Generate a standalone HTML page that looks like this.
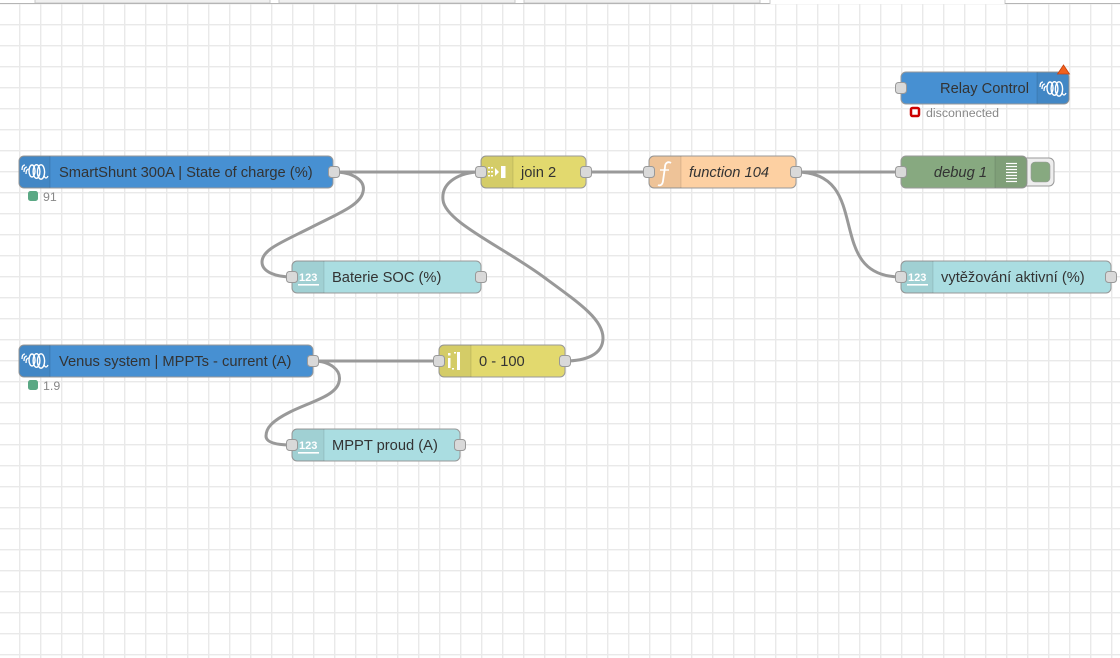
<!DOCTYPE html>
<html><head><meta charset="utf-8"><style>
html,body{margin:0;padding:0;background:#fff;}
svg{display:block;}
text{font-family:"Liberation Sans",Arial,sans-serif;}
</style></head><body>
<svg width="1120" height="658" viewBox="0 0 1120 658" xmlns="http://www.w3.org/2000/svg">
<defs>
<pattern id="g" x="19" y="3" width="21" height="21" patternUnits="userSpaceOnUse">
<rect x="0" y="0" width="1.4" height="21" fill="#e9e9e9"/>
<rect x="0" y="0" width="21" height="1.4" fill="#e9e9e9"/>
</pattern>
<g id="vic">
<path d="M-12,-1 q0,-5 3,-5 M-10,1 q0,-5 3,-5 M-8,3 q0,-5 3,-5" stroke="#fff" stroke-width="1.3" fill="none"/>
<ellipse cx="-2" cy="0" rx="3" ry="6" stroke="#fff" stroke-width="1.4" fill="none"/>
<ellipse cx="2.5" cy="0.5" rx="3.4" ry="6.8" stroke="#fff" stroke-width="1.4" fill="none"/>
<ellipse cx="7" cy="1" rx="3.6" ry="7.2" stroke="#fff" stroke-width="1.4" fill="none"/>
<path d="M10,5 q2,4 4,0" stroke="#fff" stroke-width="1.3" fill="none"/>
</g>
</defs>
<rect width="1120" height="658" fill="#fff"/>
<rect width="1120" height="658" fill="url(#g)"/>

<!-- top tabs -->
<rect x="0" y="0" width="1120" height="4" fill="#fff"/>
<rect x="35" y="-1" width="235" height="4" fill="#f0f0f0" stroke="#c8c8c8" stroke-width="1"/>
<rect x="279" y="-1" width="236" height="4" fill="#f0f0f0" stroke="#c8c8c8" stroke-width="1"/>
<rect x="524" y="-1" width="236" height="4" fill="#f0f0f0" stroke="#c8c8c8" stroke-width="1"/>
<line x1="0" y1="3.5" x2="770" y2="3.5" stroke="#b5b5b5" stroke-width="1"/>
<line x1="770" y1="0" x2="770" y2="4" stroke="#c8c8c8" stroke-width="1"/>
<line x1="1005" y1="0" x2="1005" y2="4" stroke="#c8c8c8" stroke-width="1"/>
<line x1="1005" y1="3.5" x2="1120" y2="3.5" stroke="#b5b5b5" stroke-width="1"/>

<!-- wires -->
<g stroke="#999" stroke-width="3" fill="none">
<path d="M334,172 L481,172"/>
<path d="M586,172 L649,172"/>
<path d="M796,172 L901,172"/>
<path d="M313,361 L439,361"/>
<path d="M796,172 C875,172 822,277 901,277"/>
<path d="M334,172 C352,172 366,180 363,192 C360,206 335,215 310,228 C280,243 262,250 262,262 C262,272 276,277 292,277"/>
<path d="M313,361 C330,361 342,370 339,382 C336,396 310,402 290,412 C272,421 266,428 266,436 C266,443 278,445 292,445"/>
<path d="M565,361 C585,361 603,355 603,338 C603,320 582,305 545,278 C505,248 445,222 443,200 C441,182 460,172 481,172"/>
</g>

<!-- Relay Control -->
<rect x="901" y="72" width="168" height="32" rx="5" fill="#4790d2" stroke="#999"/>
<path d="M1037,72 H1064 a5,5 0 0 1 5,5 V99 a5,5 0 0 1 -5,5 H1037 Z" fill="rgba(0,0,0,0.06)"/>
<line x1="1037" y1="72" x2="1037" y2="104" stroke="rgba(0,0,0,0.1)"/>
<use href="#vic" x="1052" y="88"/>
<text x="1029" y="93" text-anchor="end" font-size="14.7" fill="#333">Relay Control</text>
<path d="M1063.5,65 L1069.5,74 L1057.5,74 Z" fill="#f2611d" stroke="#c8400c" stroke-width="0.8"/>
<rect x="911" y="108" width="8" height="8" rx="1.5" fill="#fff" stroke="#c00" stroke-width="2.5"/>
<text x="926" y="117" font-size="12.4" fill="#888">disconnected</text>

<!-- SmartShunt -->
<rect x="19" y="156" width="314" height="32" rx="5" fill="#4790d2" stroke="#999"/>
<path d="M50,156 H24 a5,5 0 0 0 -5,5 V183 a5,5 0 0 0 5,5 H50 Z" fill="rgba(0,0,0,0.06)"/>
<line x1="50" y1="156" x2="50" y2="188" stroke="rgba(0,0,0,0.1)"/>
<use href="#vic" x="34" y="171"/>
<text x="59" y="177" font-size="14.7" fill="#333">SmartShunt 300A | State of charge (%)</text>
<rect x="28" y="191" width="10" height="10" rx="2.5" fill="#5aa884"/>
<text x="43" y="201" font-size="12.4" fill="#888">91</text>

<!-- join 2 -->
<rect x="481" y="156" width="105" height="32" rx="5" fill="#e2d96e" stroke="#999"/>
<path d="M513,156 H486 a5,5 0 0 0 -5,5 V183 a5,5 0 0 0 5,5 H513 Z" fill="rgba(0,0,0,0.06)"/>
<line x1="513" y1="156" x2="513" y2="188" stroke="rgba(0,0,0,0.1)"/>
<g fill="#fff">
<rect x="488" y="167" width="2" height="1.5"/><rect x="491" y="167" width="2" height="1.5"/>
<rect x="488" y="171" width="2" height="1.5"/><rect x="491" y="171" width="2" height="1.5"/>
<rect x="488" y="175" width="2" height="1.5"/><rect x="491" y="175" width="2" height="1.5"/>
<path d="M495,168 L499,172 L495,176 Z"/>
<rect x="501" y="166" width="4.5" height="12"/>
</g>
<text x="521" y="177" font-size="14.7" fill="#333">join 2</text>

<!-- function 104 -->
<rect x="649" y="156" width="147" height="32" rx="5" fill="#fdd0a2" stroke="#999"/>
<path d="M681,156 H654 a5,5 0 0 0 -5,5 V183 a5,5 0 0 0 5,5 H681 Z" fill="rgba(0,0,0,0.06)"/>
<line x1="681" y1="156" x2="681" y2="188" stroke="rgba(0,0,0,0.1)"/>
<path d="M671,163 C668,161 665,163 665,167 L663,181 C662.5,185 660,186 658,185" stroke="#fff" stroke-width="1.8" fill="none"/>
<line x1="660" y1="170" x2="669" y2="170" stroke="#fff" stroke-width="1.4"/>
<text x="689" y="177" font-size="14.7" fill="#333" font-style="italic">function 104</text>

<!-- debug 1 -->
<rect x="1022" y="158" width="32" height="28" rx="5" fill="#eee" stroke="#999"/>
<rect x="1031" y="162" width="19" height="20" rx="4" fill="#87a980" stroke="#999" stroke-width="0.6"/>
<rect x="901" y="156" width="126" height="32" rx="5" fill="#87a980" stroke="#999"/>
<path d="M995,156 H1022 a5,5 0 0 1 5,5 V183 a5,5 0 0 1 -5,5 H995 Z" fill="rgba(0,0,0,0.06)"/>
<line x1="995" y1="156" x2="995" y2="188" stroke="rgba(0,0,0,0.1)"/>
<g stroke="#fff" stroke-width="1.2">
<line x1="1006" y1="163.5" x2="1017" y2="163.5"/><line x1="1006" y1="166.5" x2="1017" y2="166.5"/>
<line x1="1006" y1="169.5" x2="1017" y2="169.5"/><line x1="1006" y1="172.5" x2="1017" y2="172.5"/>
<line x1="1006" y1="175.5" x2="1017" y2="175.5"/><line x1="1006" y1="178.5" x2="1017" y2="178.5"/>
<line x1="1006" y1="181.5" x2="1017" y2="181.5"/>
</g>
<text x="987" y="177" text-anchor="end" font-size="14.7" fill="#333" font-style="italic">debug 1</text>

<!-- Baterie SOC -->
<rect x="292" y="261" width="189" height="32" rx="5" fill="#aadde1" stroke="#999"/>
<path d="M324,261 H297 a5,5 0 0 0 -5,5 V288 a5,5 0 0 0 5,5 H324 Z" fill="rgba(0,0,0,0.06)"/>
<line x1="324" y1="261" x2="324" y2="293" stroke="rgba(0,0,0,0.1)"/>
<text x="299" y="281" font-size="11" font-weight="bold" fill="#fff">123</text>
<rect x="298" y="284" width="21" height="1.6" fill="#fff"/>
<text x="332" y="282" font-size="14.7" fill="#333">Baterie SOC (%)</text>

<!-- vytezovani -->
<rect x="901" y="261" width="210" height="32" rx="5" fill="#aadde1" stroke="#999"/>
<path d="M933,261 H906 a5,5 0 0 0 -5,5 V288 a5,5 0 0 0 5,5 H933 Z" fill="rgba(0,0,0,0.06)"/>
<line x1="933" y1="261" x2="933" y2="293" stroke="rgba(0,0,0,0.1)"/>
<text x="908" y="281" font-size="11" font-weight="bold" fill="#fff">123</text>
<rect x="907" y="284" width="21" height="1.6" fill="#fff"/>
<text x="941" y="282" font-size="14.7" fill="#333">vytěžování aktivní (%)</text>

<!-- Venus system -->
<rect x="19" y="345" width="294" height="32" rx="5" fill="#4790d2" stroke="#999"/>
<path d="M50,345 H24 a5,5 0 0 0 -5,5 V372 a5,5 0 0 0 5,5 H50 Z" fill="rgba(0,0,0,0.06)"/>
<line x1="50" y1="345" x2="50" y2="377" stroke="rgba(0,0,0,0.1)"/>
<use href="#vic" x="34" y="360"/>
<text x="59" y="366" font-size="14.7" fill="#333">Venus system | MPPTs - current (A)</text>
<rect x="28" y="380" width="10" height="10" rx="2.5" fill="#5aa884"/>
<text x="43" y="390" font-size="12.4" fill="#888">1.9</text>

<!-- 0 - 100 -->
<rect x="439" y="345" width="126" height="32" rx="5" fill="#e2d96e" stroke="#999"/>
<path d="M471,345 H444 a5,5 0 0 0 -5,5 V372 a5,5 0 0 0 5,5 H471 Z" fill="rgba(0,0,0,0.06)"/>
<line x1="471" y1="345" x2="471" y2="377" stroke="rgba(0,0,0,0.1)"/>
<g fill="#fff">
<rect x="448" y="358" width="2.5" height="10"/>
<rect x="448" y="353" width="2.5" height="2.5"/>
<rect x="457" y="352" width="3" height="18"/>
<rect x="454" y="352" width="2" height="1.5"/>
<rect x="452" y="368" width="2" height="1.5"/>
</g>
<text x="479" y="366" font-size="14.7" fill="#333">0 - 100</text>

<!-- MPPT proud -->
<rect x="292" y="429" width="168" height="32" rx="5" fill="#aadde1" stroke="#999"/>
<path d="M324,429 H297 a5,5 0 0 0 -5,5 V456 a5,5 0 0 0 5,5 H324 Z" fill="rgba(0,0,0,0.06)"/>
<line x1="324" y1="429" x2="324" y2="461" stroke="rgba(0,0,0,0.1)"/>
<text x="299" y="449" font-size="11" font-weight="bold" fill="#fff">123</text>
<rect x="298" y="452" width="21" height="1.6" fill="#fff"/>
<text x="332" y="450" font-size="14.7" fill="#333">MPPT proud (A)</text>

<!-- ports -->
<g fill="#d9d9d9" stroke="#999" stroke-width="1">
<rect x="895.5" y="82.5" width="11" height="11" rx="3"/>
<rect x="328.5" y="166.5" width="11" height="11" rx="3"/>
<rect x="475.5" y="166.5" width="11" height="11" rx="3"/>
<rect x="580.5" y="166.5" width="11" height="11" rx="3"/>
<rect x="643.5" y="166.5" width="11" height="11" rx="3"/>
<rect x="790.5" y="166.5" width="11" height="11" rx="3"/>
<rect x="895.5" y="166.5" width="11" height="11" rx="3"/>
<rect x="286.5" y="271.5" width="11" height="11" rx="3"/>
<rect x="475.5" y="271.5" width="11" height="11" rx="3"/>
<rect x="895.5" y="271.5" width="11" height="11" rx="3"/>
<rect x="1105.5" y="271.5" width="11" height="11" rx="3"/>
<rect x="307.5" y="355.5" width="11" height="11" rx="3"/>
<rect x="433.5" y="355.5" width="11" height="11" rx="3"/>
<rect x="559.5" y="355.5" width="11" height="11" rx="3"/>
<rect x="286.5" y="439.5" width="11" height="11" rx="3"/>
<rect x="454.5" y="439.5" width="11" height="11" rx="3"/>
</g>
</svg>
</body></html>
